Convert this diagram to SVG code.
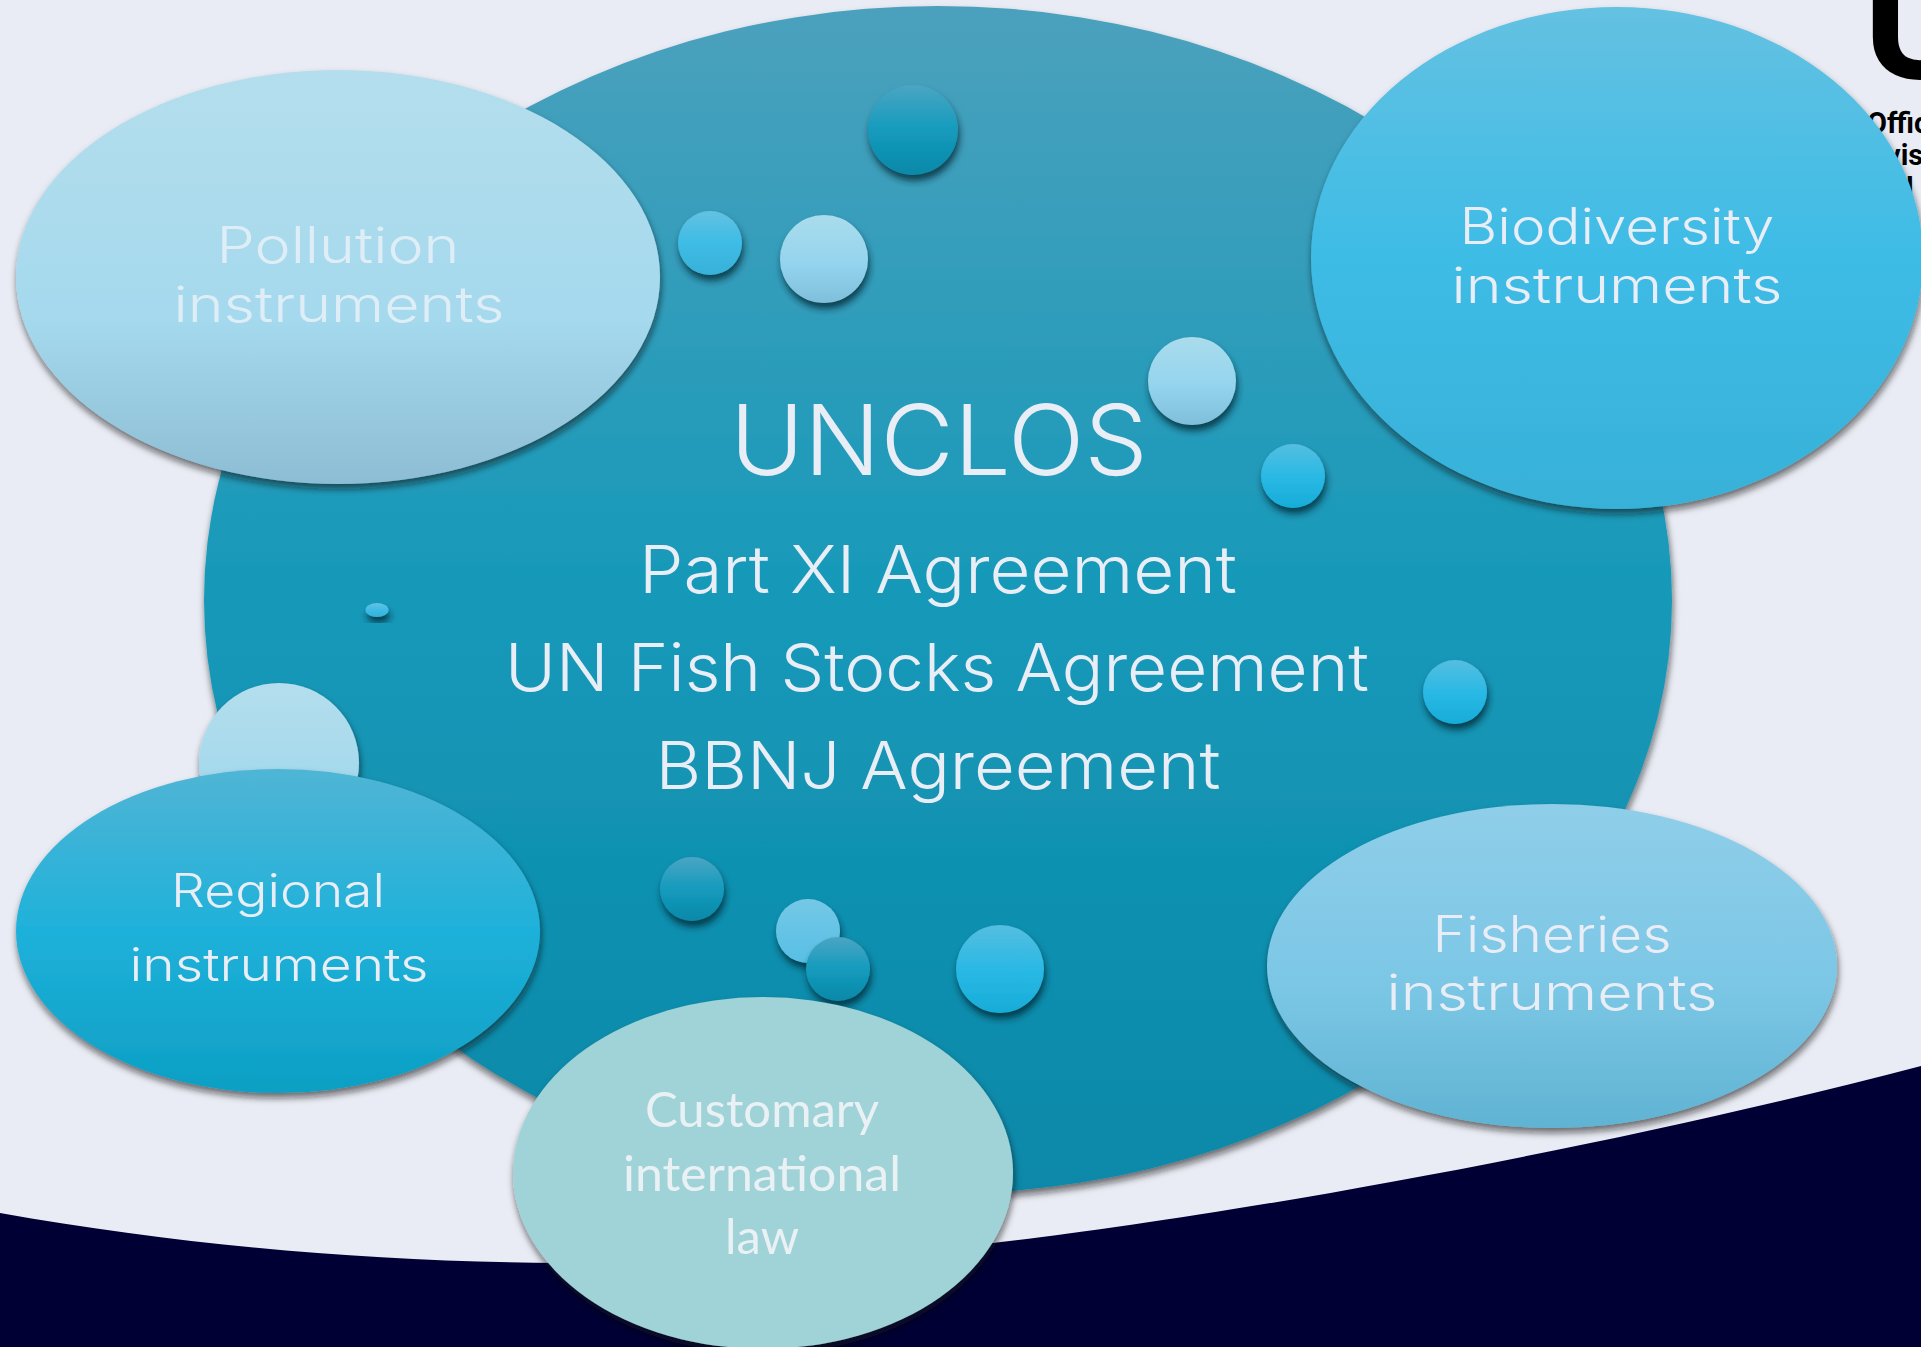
<svg xmlns="http://www.w3.org/2000/svg" width="1921" height="1347" viewBox="0 0 1921 1347">
<defs>
<linearGradient id="gMain" x1="0" y1="0" x2="0" y2="1"><stop offset="0" stop-color="#4ba1bd"/><stop offset=".5" stop-color="#1699b9"/><stop offset="1" stop-color="#0a88a8"/></linearGradient>
<linearGradient id="gPale" x1="0" y1="0" x2="0" y2="1"><stop offset="0" stop-color="#b4deed"/><stop offset=".6" stop-color="#a5d9ed"/><stop offset="1" stop-color="#8dbdd4"/></linearGradient>
<linearGradient id="gPaleDot" x1="0" y1="0" x2="0" y2="1"><stop offset="0" stop-color="#a9dcec"/><stop offset=".55" stop-color="#95d4ee"/><stop offset="1" stop-color="#7fbfdb"/></linearGradient>
<linearGradient id="gSky" x1="0" y1="0" x2="0" y2="1"><stop offset="0" stop-color="#64c1e2"/><stop offset=".5" stop-color="#3dbce6"/><stop offset="1" stop-color="#38b1d8"/></linearGradient>
<linearGradient id="gBlue" x1="0" y1="0" x2="0" y2="1"><stop offset="0" stop-color="#50b5d5"/><stop offset=".5" stop-color="#1eb1da"/><stop offset="1" stop-color="#0d9fc4"/></linearGradient>
<linearGradient id="gBright" x1="0" y1="0" x2="0" y2="1"><stop offset="0" stop-color="#55bee0"/><stop offset=".5" stop-color="#2ab9e5"/><stop offset="1" stop-color="#17acd8"/></linearGradient>
<linearGradient id="gLight" x1="0" y1="0" x2="0" y2="1"><stop offset="0" stop-color="#8fcee9"/><stop offset=".55" stop-color="#7cc7e6"/><stop offset="1" stop-color="#60b3d3"/></linearGradient>
<linearGradient id="gLightDot" x1="0" y1="0" x2="0" y2="1"><stop offset="0" stop-color="#74c8e6"/><stop offset="1" stop-color="#58bfe5"/></linearGradient>
<linearGradient id="gDark" x1="0" y1="0" x2="0" y2="1"><stop offset="0" stop-color="#4ba5c3"/><stop offset=".5" stop-color="#149bbd"/><stop offset="1" stop-color="#0a88a8"/></linearGradient>
<filter id="sh" x="-20%" y="-20%" width="140%" height="140%"><feDropShadow dx="1" dy="5" stdDeviation="3.5" flood-color="#101010" flood-opacity=".6"/></filter>
<filter id="shs" x="-40%" y="-40%" width="180%" height="180%"><feDropShadow dx="1.5" dy="6" stdDeviation="3.5" flood-color="#02222f" flood-opacity=".75"/></filter>
</defs>
<style>
.big{filter:url(#sh)}
.dot{filter:url(#shs)}
text{text-anchor:middle}
.m{font-family:Inter,"Noto Sans",sans-serif;font-weight:300;fill:#e9edf5}
.c{font-family:Lato,"Open Sans",sans-serif;font-weight:400;fill:#e9f1f5;font-size:48px}
.n{font-size:50px}
.r{font-size:46px}
.s{font-size:66px}
.logo{font-family:Roboto,sans-serif;font-weight:700;fill:#000;text-anchor:start}
</style>
<rect width="1921" height="1347" fill="#e9ecf4"/>
<g id="logo">
<text class="logo" x="1863" y="78" font-size="172" font-weight="500">U</text>
<text class="logo" x="1867" y="133" font-size="29">Offic</text>
<text class="logo" x="1886" y="165" font-size="29">vis</text>
<text class="logo" x="1906" y="198" font-size="29">l</text>
</g>
<path id="sea" d="M0 1213C180 1245 370 1262 560 1263C720 1263 860 1258 993 1243C1180 1222 1560 1160 1921 1066V1347H0Z" fill="#000034"/>
<g id="connectors"></g>
<g id="unclos">
<ellipse class="big" cx="938" cy="600" rx="734" ry="594" fill="url(#gMain)"/>
</g>
<g id="bubbles">
<circle class="dot" cx="913" cy="130" r="45" fill="url(#gDark)"/>
<circle class="dot" cx="710" cy="243" r="32" fill="url(#gSky)"/>
<circle class="dot" cx="824" cy="259" r="44" fill="url(#gPaleDot)"/>
<circle class="dot" cx="1192" cy="381" r="44" fill="url(#gPaleDot)"/>
<circle class="dot" cx="1293" cy="476" r="32" fill="url(#gBright)"/>
<circle class="dot" cx="1455" cy="692" r="32" fill="url(#gBright)"/>
<ellipse class="dot" cx="377" cy="610" rx="11.5" ry="7" fill="url(#gSky)"/>
<circle class="big" cx="279" cy="763" r="80" fill="url(#gPale)"/>
<circle class="dot" cx="692" cy="889" r="32" fill="url(#gDark)"/>
<circle class="dot" cx="808" cy="931" r="32" fill="url(#gLightDot)"/>
<circle class="dot" cx="838" cy="969" r="32" fill="url(#gDark)"/>
<circle class="dot" cx="1000" cy="969" r="44" fill="url(#gBright)"/>
</g>
<g id="unclos-text">
<text class="m" x="939" y="475" font-size="98" textLength="418" lengthAdjust="spacingAndGlyphs">UNCLOS</text>
<text class="m s" x="938" y="593" textLength="598" lengthAdjust="spacingAndGlyphs">Part XI Agreement</text>
<text class="m s" x="937" y="691" textLength="864" lengthAdjust="spacingAndGlyphs">UN Fish Stocks Agreement</text>
<text class="m s" x="938" y="789" textLength="565" lengthAdjust="spacingAndGlyphs">BBNJ Agreement</text>
</g>
<g id="pollution">
<ellipse class="big" cx="338" cy="277" rx="322" ry="207" fill="url(#gPale)"/>
<text class="m n" x="338" y="263" style="fill:#dfeef6" textLength="243" lengthAdjust="spacingAndGlyphs">Pollution</text>
<text class="m n" x="339" y="322" style="fill:#dfeef6" textLength="331" lengthAdjust="spacingAndGlyphs">instruments</text>
</g>
<g id="biodiversity">
<ellipse class="big" cx="1617" cy="258" rx="306" ry="251" fill="url(#gSky)"/>
<text class="m n" x="1617" y="244" textLength="315" lengthAdjust="spacingAndGlyphs">Biodiversity</text>
<text class="m n" x="1617" y="303" textLength="331" lengthAdjust="spacingAndGlyphs">instruments</text>
</g>
<g id="regional">
<ellipse class="big" cx="278" cy="931" rx="262" ry="162" fill="url(#gBlue)"/>
<text class="m r" x="278" y="907" textLength="214" lengthAdjust="spacingAndGlyphs">Regional</text>
<text class="m r" x="279" y="981" textLength="299" lengthAdjust="spacingAndGlyphs">instruments</text>
</g>
<g id="fisheries">
<ellipse class="big" cx="1552" cy="966" rx="285" ry="162" fill="url(#gLight)"/>
<text class="m n" x="1552" y="952" textLength="239" lengthAdjust="spacingAndGlyphs">Fisheries</text>
<text class="m n" x="1552" y="1010" textLength="331" lengthAdjust="spacingAndGlyphs">instruments</text>
</g>
<g id="customary">
<ellipse class="big" cx="763" cy="1173" rx="250" ry="176" fill="#a0d3d7"/>
<text class="c" x="762" y="1127" textLength="234" lengthAdjust="spacingAndGlyphs">Customary</text>
<text class="c" x="762" y="1191" textLength="278" lengthAdjust="spacingAndGlyphs">international</text>
<text class="c" x="762" y="1254" textLength="74" lengthAdjust="spacingAndGlyphs">law</text>
</g>
</svg>
